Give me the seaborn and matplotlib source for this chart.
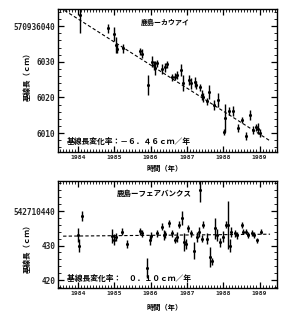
import numpy as np
import pandas as pd
import matplotlib
matplotlib.use("Agg")
import matplotlib.pyplot as plt
from matplotlib.ticker import FixedLocator, MultipleLocator
import seaborn as sns

# ---------------- data ----------------
# Kashima - Kauai
kk_t = [1984.05, 1984.83, 1984.99, 1985.05, 1985.08, 1985.24, 1985.72, 1985.76, 1985.93,
        1986.05, 1986.10, 1986.13, 1986.18, 1986.31, 1986.40, 1986.45, 1986.60, 1986.66,
        1986.73, 1986.84, 1986.90, 1987.06, 1987.10, 1987.22, 1987.25, 1987.36, 1987.41,
        1987.45, 1987.55, 1987.61, 1987.76, 1987.87, 1988.02, 1988.05, 1988.16, 1988.27,
        1988.40, 1988.52, 1988.63, 1988.74, 1988.83, 1988.90, 1988.95, 1989.01]
kk_v = [6043.1, 6039.4, 6037.8, 6034.7, 6033.6, 6033.8, 6032.9, 6032.3, 6023.5,
        6030.0, 6029.0, 6028.2, 6029.6, 6028.0, 6028.4, 6029.3, 6025.7, 6025.8,
        6026.3, 6027.7, 6024.0, 6024.9, 6024.0, 6024.3, 6023.5, 6022.9, 6020.7,
        6020.0, 6018.9, 6021.5, 6017.9, 6019.3, 6010.3, 6014.2, 6016.2, 6016.2,
        6011.4, 6013.6, 6009.2, 6015.1, 6010.9, 6011.6, 6011.2, 6010.0]
kk_e = [5.0, 1.2, 2.0, 2.2, 1.0, 1.2, 1.0, 1.2, 2.8,
        1.5, 1.2, 2.0, 1.0, 1.5, 1.2, 1.0, 1.0, 1.0,
        1.0, 1.8, 2.3, 1.5, 1.5, 1.5, 1.2, 1.0, 1.5,
        1.2, 1.0, 2.0, 1.5, 2.0, 0.8, 4.0, 1.2, 1.5,
        1.2, 0.8, 1.0, 1.5, 1.2, 1.0, 1.5, 1.2]
kk_rate = -6.46
kk_mid = (1986.37, 6026.7)
kk_span = (1983.50, 1989.29)
kk_ticks = [6010, 6020, 6030, 6040]
kk_ticklabels = ["6010", "6020", "6030", "570936040"]

# Kashima - Fairbanks
kf_t = [1984.00, 1984.03, 1984.10, 1984.94, 1984.99, 1985.04, 1985.21, 1985.35, 1985.71,
        1985.76, 1985.90, 1985.98, 1986.02, 1986.18, 1986.31, 1986.36, 1986.40, 1986.50,
        1986.58, 1986.67, 1986.73, 1986.78, 1986.86, 1986.92, 1986.97, 1987.03, 1987.11,
        1987.20, 1987.27, 1987.33, 1987.35, 1987.41, 1987.44, 1987.55, 1987.63, 1987.69,
        1987.77, 1987.82, 1987.91, 1987.99, 1988.07, 1988.13, 1988.19, 1988.22, 1988.33,
        1988.38, 1988.52, 1988.55, 1988.63, 1988.69, 1988.80, 1988.85, 1988.93, 1989.04]
kf_v = [433.0, 430.0, 438.5, 432.8, 431.7, 432.5, 434.0, 430.4, 434.1,
        433.6, 423.5, 431.6, 432.8, 433.6, 435.4, 433.0, 433.3, 436.5,
        433.6, 431.6, 432.5, 436.0, 438.0, 431.0, 430.5, 435.0, 433.5,
        428.5, 432.5, 434.0, 446.0, 432.0, 436.0, 432.0, 426.7, 425.5,
        435.0, 433.0, 431.0, 432.6, 436.0, 436.0, 430.0, 434.0, 433.6,
        433.0, 436.0, 434.0, 434.0, 433.0, 433.6, 433.0, 431.5, 434.0]
kf_e = [2.0, 2.0, 1.5, 2.0, 1.5, 1.2, 1.0, 1.2, 1.0,
        1.0, 3.0, 1.5, 1.0, 1.0, 1.0, 1.5, 1.0, 1.0,
        1.0, 1.0, 1.5, 1.0, 2.0, 2.5, 1.5, 1.0, 1.0,
        2.5, 1.5, 1.5, 3.5, 1.0, 1.0, 1.5, 3.0, 1.0,
        3.0, 1.8, 1.3, 1.5, 1.0, 7.0, 2.0, 1.5, 1.0,
        1.0, 0.8, 0.8, 0.8, 0.8, 0.8, 0.8, 0.8, 0.8]
kf_rate = 0.10
kf_mid = (1986.40, 433.0)
kf_span = (1983.59, 1989.29)
kf_ticks = [420, 430, 440]
kf_ticklabels = ["420", "430", "542710440"]

years = [1984, 1985, 1986, 1987, 1988, 1989]
year_labels = ["1984", "1985", "1986", "1987", "1988", "1989"]

kk_title = "鹿島ーカウアイ"
kf_title = "鹿島ーフェアバンクス"
kk_rate_text = "基線長変化率：－６．４６ｃｍ／年"
kf_rate_text = "基線長変化率：　０．１０ｃｍ／年"
xlabel = "時間（年）"
ylabel = "基線長（ｃｍ）"

# ---------------- style ----------------
sns.set_style("ticks")
plt.rcParams['font.family'] = ['Noto Sans CJK JP', 'DejaVu Sans']
plt.rcParams['axes.linewidth'] = 1.0

W, H = 288, 315
fig = plt.figure(figsize=(W / 100, H / 100), dpi=100)

def box(l, t, r, b):
    return [l / W, (H - b) / H, (r - l) / W, (b - t) / H]

ax1 = fig.add_axes(box(58, 9, 277, 152))
ax2 = fig.add_axes(box(58, 181, 277, 288))

def draw(ax, t, v, e, rate, mid, span, ylim, ticks, ticklabels):
    df = pd.DataFrame({"t": t, "v": v, "e": e})
    ax.errorbar(df["t"], df["v"], yerr=df["e"], fmt="none", ecolor="black",
                elinewidth=1.0, capsize=0)
    sns.scatterplot(data=df, x="t", y="v", ax=ax, color="black", s=5,
                    edgecolor="black", linewidth=0, legend=False)
    ln = pd.DataFrame({"t": list(span),
                       "v": [mid[1] + rate * (s - mid[0]) for s in span]})
    sns.lineplot(data=ln, x="t", y="v", ax=ax, color="black", lw=0.8,
                 linestyle=(0, (3, 2)))
    ax.set_xlim(1983.449, 1989.482)
    ax.set_ylim(*ylim)
    ax.xaxis.set_major_locator(FixedLocator(years))
    ax.set_xticklabels(year_labels, fontfamily="DejaVu Sans Mono",
                       fontweight="bold", fontsize=4.6)
    ax.xaxis.set_minor_locator(MultipleLocator(1 / 12))
    ax.yaxis.set_major_locator(FixedLocator(ticks))
    ax.set_yticklabels(ticklabels, fontfamily="DejaVu Sans Mono",
                       fontweight="bold", fontsize=5.6)
    ax.yaxis.set_minor_locator(MultipleLocator(2))
    ax.tick_params(which="both", direction="in", top=True, right=True,
                   color="black")
    ax.tick_params(which="major", length=4, width=0.9, pad=2)
    ax.tick_params(which="minor", length=2, width=0.6)
    ax.set_xlabel("")
    ax.set_ylabel("")
    for s in ax.spines.values():
        s.set_visible(True)
        s.set_color("black")

draw(ax1, kk_t, kk_v, kk_e, kk_rate, kk_mid, kk_span, (6004.7, 6044.8),
     kk_ticks, kk_ticklabels)
draw(ax2, kf_t, kf_v, kf_e, kf_rate, kf_mid, kf_span, (417.7, 448.7),
     kf_ticks, kf_ticklabels)

def ftext(x, y, s, size, ha="left", rot=0):
    fig.text(x / W, (H - y) / H, s, fontsize=size, fontweight="bold",
             ha=ha, va="center", rotation=rot, color="black")

ftext(141, 22, kk_title, 5.0)
ftext(67, 141, kk_rate_text, 5.6)
ftext(165, 168, xlabel, 5.2, ha="center")
ftext(117, 193, kf_title, 5.4)
ftext(67, 278, kf_rate_text, 5.6)
ftext(165, 307, xlabel, 5.2, ha="center")
ftext(27, 75, ylabel, 5.4, ha="center", rot=90)
ftext(27, 247, ylabel, 5.4, ha="center", rot=90)

fig.savefig("out.png", dpi=100)
